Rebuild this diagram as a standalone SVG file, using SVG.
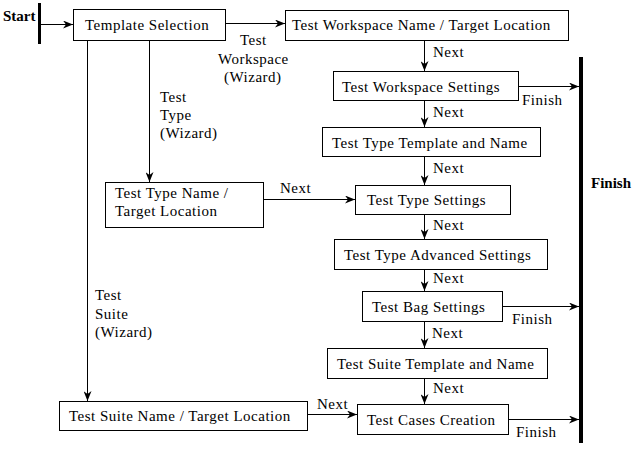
<svg xmlns="http://www.w3.org/2000/svg" width="637" height="450" viewBox="0 0 637 450">
<style>
text{font-family:"Liberation Serif","Times New Roman",serif;font-size:15px;fill:#000;letter-spacing:0.5px}
.b{font-weight:bold;letter-spacing:0}
rect.n{fill:#fff;stroke:#000;stroke-width:1}
line{stroke:#000;stroke-width:1}
</style>
<defs>
<marker id="ah" viewBox="0 0 10 8" refX="10" refY="4" markerWidth="10" markerHeight="8" markerUnits="userSpaceOnUse" orient="auto">
<path d="M0,0 L10,4 L0,8 L3,4 Z" fill="#000"/>
</marker>
</defs>
<rect width="637" height="450" fill="#fff"/>
<g id="start">
<rect x="38" y="3" width="3" height="41" fill="#000"/>
<text class="b" x="3" y="21">Start</text>
</g>
<g id="finish">
<rect x="579" y="57" width="4" height="386" fill="#000"/>
<text class="b" x="591" y="188">Finish</text>
</g>
<g id="connectors">
<line x1="41" y1="24.5" x2="73" y2="24.5" marker-end="url(#ah)"/>
<line x1="225.5" y1="23.5" x2="285" y2="23.5" marker-end="url(#ah)"/>
<line x1="87.5" y1="40.5" x2="87.5" y2="401" marker-end="url(#ah)"/>
<line x1="149.5" y1="40.5" x2="149.5" y2="182" marker-end="url(#ah)"/>
<line x1="424.5" y1="40.5" x2="424.5" y2="71" marker-end="url(#ah)"/>
<line x1="424.5" y1="100.5" x2="424.5" y2="127" marker-end="url(#ah)"/>
<line x1="424.5" y1="156.5" x2="424.5" y2="185" marker-end="url(#ah)"/>
<line x1="424.5" y1="214.5" x2="424.5" y2="239" marker-end="url(#ah)"/>
<line x1="424.5" y1="269.5" x2="424.5" y2="291" marker-end="url(#ah)"/>
<line x1="424.5" y1="321.5" x2="424.5" y2="348" marker-end="url(#ah)"/>
<line x1="424.5" y1="378.5" x2="424.5" y2="404" marker-end="url(#ah)"/>
<line x1="263.5" y1="199.5" x2="355" y2="199.5" marker-end="url(#ah)"/>
<line x1="307.5" y1="414.5" x2="357" y2="414.5" marker-end="url(#ah)"/>
<line x1="518.5" y1="86.5" x2="579" y2="86.5" marker-end="url(#ah)"/>
<line x1="502.5" y1="306.5" x2="579" y2="306.5" marker-end="url(#ah)"/>
<line x1="508.5" y1="419.5" x2="579" y2="419.5" marker-end="url(#ah)"/>
<text x="240" y="45">Test</text>
<text x="218" y="64">Workspace</text>
<text x="224" y="82">(Wizard)</text>
<text x="160" y="102">Test</text>
<text x="160" y="120">Type</text>
<text x="160" y="138">(Wizard)</text>
<text x="95" y="300">Test</text>
<text x="95" y="319">Suite</text>
<text x="95" y="337">(Wizard)</text>
<text x="433" y="57">Next</text>
<text x="433" y="117">Next</text>
<text x="433" y="173">Next</text>
<text x="433" y="230">Next</text>
<text x="433" y="283">Next</text>
<text x="432" y="338">Next</text>
<text x="433" y="393">Next</text>
<text x="280" y="193">Next</text>
<text x="317" y="409">Next</text>
<text x="522" y="105">Finish</text>
<text x="512" y="324">Finish</text>
<text x="516" y="437">Finish</text>
</g>
<g id="template-selection">
<rect class="n" x="73.5" y="9.5" width="152" height="31"/>
<text x="85" y="30">Template Selection</text>
</g>
<g id="ws-name">
<rect class="n" x="285.5" y="10.5" width="283" height="30"/>
<text x="292" y="30">Test Workspace Name / Target Location</text>
</g>
<g id="ws-settings">
<rect class="n" x="333.5" y="71.5" width="185" height="29"/>
<text x="342" y="92">Test Workspace Settings</text>
</g>
<g id="tt-template">
<rect class="n" x="322.5" y="127.5" width="218" height="29"/>
<text x="332" y="148">Test Type Template and Name</text>
</g>
<g id="tt-name">
<rect class="n" x="105.5" y="182.5" width="158" height="45"/>
<text x="115" y="198">Test Type Name /</text>
<text x="115" y="216">Target Location</text>
</g>
<g id="tt-settings">
<rect class="n" x="355.5" y="185.5" width="155" height="29"/>
<text x="367" y="205">Test Type Settings</text>
</g>
<g id="tt-advanced">
<rect class="n" x="334.5" y="239.5" width="213" height="30"/>
<text x="344" y="260">Test Type Advanced Settings</text>
</g>
<g id="bag-settings">
<rect class="n" x="362.5" y="291.5" width="140" height="30"/>
<text x="372" y="312">Test Bag Settings</text>
</g>
<g id="ts-template">
<rect class="n" x="327.5" y="348.5" width="220" height="30"/>
<text x="337" y="369">Test Suite Template and Name</text>
</g>
<g id="ts-name">
<rect class="n" x="59.5" y="401.5" width="248" height="29"/>
<text x="69" y="421">Test Suite Name / Target Location</text>
</g>
<g id="cases-creation">
<rect class="n" x="357.5" y="404.5" width="151" height="30"/>
<text x="367" y="425">Test Cases Creation</text>
</g>
</svg>
